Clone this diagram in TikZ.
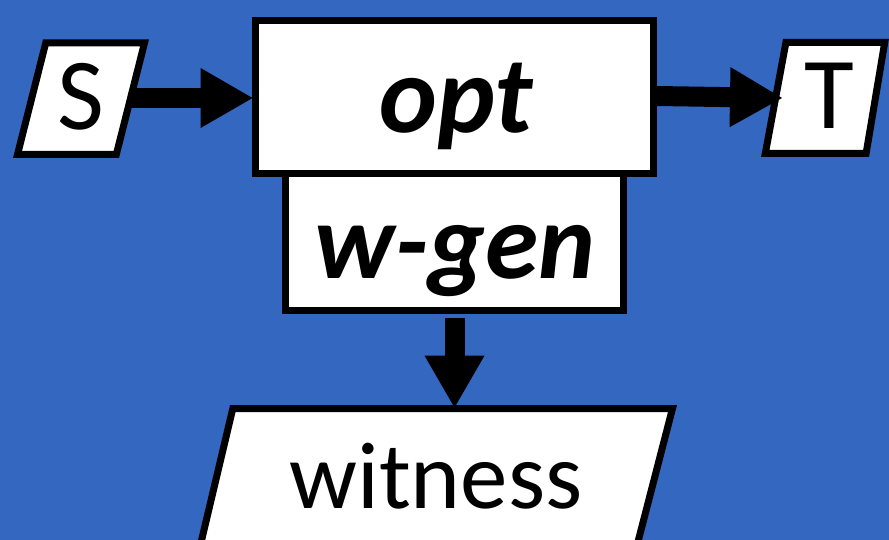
\documentclass[tikz,border=0pt]{standalone}
\usepackage{fontspec}
\setmainfont{Carlito}
\usetikzlibrary{arrows.meta}
\definecolor{bgblue}{RGB}{52,103,192}
\tikzset{
  frame/.style={draw=black, line width=7pt, fill=white, line join=miter},
  box/.style={frame, inner sep=0pt},
  lbl/.style={inner sep=0pt, anchor=base, text=black},
  conn/.style={line width=20pt, -{Triangle[width=56pt,length=53pt]}},
}
\begin{document}
\begin{tikzpicture}[x=1pt,y=-1pt]
\useasboundingbox (0,0) rectangle (889,540);
\clip (0,0) rectangle (889,540);
\fill[bgblue] (0,0) rectangle (889,540);
% S parallelogram
\draw[frame] (45.7,43) -- (144.5,43) -- (116.3,154.5) -- (17.5,154.5) -- cycle;
\node[lbl, font=\fontsize{102}{102}\selectfont] (S) at (81,130) {S};
\coordinate (Sr) at (130.6,98);
% T parallelogram
\draw[frame] (785.9,42.5) -- (884.7,42.5) -- (866.1,153.5) -- (765.3,153.5) -- cycle;
\node[lbl, font=\fontsize{102}{102}\selectfont] (T) at (829,129) {T};
\coordinate (Tl) at (783,98);
% witness parallelogram
\draw[frame] (232.8,408.5) -- (672.5,408.5) -- (622.9,600) -- (187.4,600) -- cycle;
\node[lbl, font=\fontsize{95}{95}\selectfont] (W) at (436,508) {witness};
\coordinate (Wt) at (454.5,408.5);
% w-gen and opt boxes
\node[box, minimum width=338pt, minimum height=137pt] (wgen) at (454.5,242) {};
\node[box, minimum width=398pt, minimum height=153pt] (opt) at (454.5,97) {};
\node[lbl, font=\fontsize{110}{110}\selectfont\bfseries\itshape] (optl) at (456,133) {opt};
\node[lbl, font=\fontsize{108}{108}\selectfont\bfseries\itshape] (wgenl) at (455,278) {w-gen};
% connectors
\draw[conn] (Sr) -- ([xshift=1.5pt]Sr -| opt.west);
\draw[conn] ([yshift=1pt]opt.east) -- (Tl);
\draw[conn] ([yshift=-3.5pt]wgen.south) -- (Wt);
\end{tikzpicture}
\end{document}
